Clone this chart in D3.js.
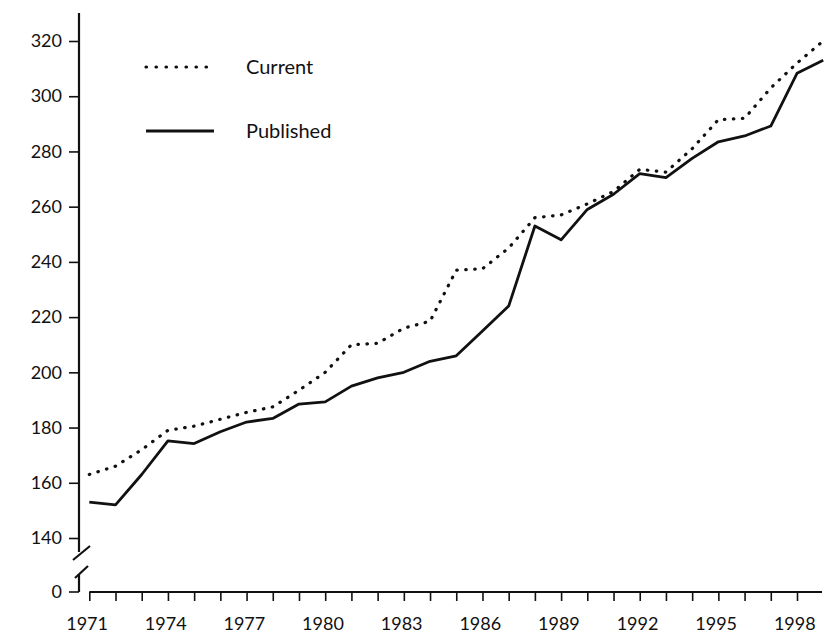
<!DOCTYPE html>
<html>
<head>
<meta charset="utf-8">
<script src="https://cdn.jsdelivr.net/npm/d3@7"></script>
<style>
  body { margin: 0; background: #fff; }
  svg text { font-family: Lato, "Open Sans", sans-serif; fill: #111; }
</style>
</head>
<body>
<div id="chart"></div>
<script>
// data
var years = d3.range(1971, 2000);
var current = [163, 166, 172, 179, 180.5, 183, 185.5, 187.5, 193.5, 200,
    210, 210.5, 216, 218.5, 237, 237.5, 245, 256, 257, 261,
    265.5, 273.5, 272.5, 281, 291.5, 292, 303, 312, 320];
var published = [153, 152, 163, 175.2, 174.2, 178.5, 182, 183.3, 188.5, 189.3,
    195, 198, 200, 204, 206, 215, 224, 253, 248, 259,
    264.5, 272, 270.5, 277.5, 283.5, 285.6, 289.2, 308.3, 313];
var yTicks = [140, 160, 180, 200, 220, 240, 260, 280, 300, 320];
var seriesNames = ["Current", "Published"];

var width = 827, height = 634;
var axisX = 79, baseY = 592;

var xScale = d3.scaleLinear()
    .domain([1971, 1998])
    .range([89.3, 797]);

var yScale = d3.scaleLinear()
    .domain([140, 320])
    .range([538, 41]);

var svg = d3.select("#chart")
    .append("svg")
    .attr("width", width)
    .attr("height", height);

//Y-Axis (broken)
var yAxis = svg.append("g")
    .attr("transform", "translate(" + axisX + ",0)")
    .call(d3.axisLeft(yScale).tickValues(yTicks).tickSize(10).tickPadding(7));
yAxis.select(".domain").remove();
yAxis.selectAll(".tick line").attr("stroke", "#111").attr("stroke-width", 1.6);
yAxis.selectAll("text").attr("font-size", 18).attr("fill", "#111");

svg.append("line")
    .attr("x1", axisX).attr("x2", axisX)
    .attr("y1", 13).attr("y2", 552)
    .attr("stroke", "#111").attr("stroke-width", 2.2);
svg.append("line")
    .attr("x1", 73).attr("y1", 560).attr("x2", 90).attr("y2", 546)
    .attr("stroke", "#111").attr("stroke-width", 2.2);
svg.append("line")
    .attr("x1", 75).attr("y1", 578).attr("x2", 88).attr("y2", 566)
    .attr("stroke", "#111").attr("stroke-width", 2.2);
svg.append("line")
    .attr("x1", axisX).attr("x2", axisX)
    .attr("y1", 574).attr("y2", baseY)
    .attr("stroke", "#111").attr("stroke-width", 2.2);

// zero tick
svg.append("line")
    .attr("x1", axisX - 10).attr("x2", axisX)
    .attr("y1", baseY).attr("y2", baseY)
    .attr("stroke", "#111").attr("stroke-width", 1.6);
svg.append("text")
    .attr("x", axisX - 17)
    .attr("y", baseY)
    .attr("dy", "0.32em")
    .attr("text-anchor", "end")
    .attr("font-size", 18)
    .text("0");

//X-Axis
var xAxis = svg.append("g")
    .attr("transform", "translate(0," + baseY + ")")
    .call(d3.axisBottom(xScale)
        .tickValues(d3.range(1971, 1999))
        .tickSize(9)
        .tickPadding(16)
        .tickFormat(function(d) {
            return (d - 1971) % 3 === 0 ? d : "";
        }));
xAxis.select(".domain").remove();
xAxis.selectAll(".tick line").attr("stroke", "#111").attr("stroke-width", 1.6);
xAxis.selectAll("text").attr("font-size", 18).attr("fill", "#111")
    .attr("dx", "-0.15em");

svg.append("line")
    .attr("x1", xScale(1971)).attr("x2", 822)
    .attr("y1", baseY).attr("y2", baseY)
    .attr("stroke", "#111").attr("stroke-width", 2.2);

// Lines
var line = d3.line()
    .x(function(d) { return xScale(d.year); })
    .y(function(d) { return yScale(d.value); });

var currentData = years.map(function(y, i) { return { year: y, value: current[i] }; });
var publishedData = years.map(function(y, i) { return { year: y, value: published[i] }; });

svg.append("path")
    .datum(currentData)
    .attr("d", line)
    .attr("fill", "none")
    .attr("stroke", "#111")
    .attr("stroke-width", 3.2)
    .attr("stroke-linecap", "round")
    .attr("stroke-dasharray", "0.5,8.5");

svg.append("path")
    .datum(publishedData)
    .attr("d", line)
    .attr("fill", "none")
    .attr("stroke", "#111")
    .attr("stroke-width", 2.8)
    .attr("stroke-linejoin", "round");

// Legend
var legend = svg.append("g")
    .selectAll("g")
    .data(seriesNames)
    .enter().append("g")
    .attr("transform", function(d, i) {
        return "translate(0," + (67 + i * 64) + ")";
    });

legend.append("line")
    .attr("x1", 146)
    .attr("x2", function(d, i) { return i === 0 ? 208 : 214; })
    .attr("stroke", "#111")
    .attr("stroke-width", function(d, i) { return i === 0 ? 3.2 : 2.8; })
    .attr("stroke-linecap", function(d, i) { return i === 0 ? "round" : "butt"; })
    .attr("stroke-dasharray", function(d, i) { return i === 0 ? "0.5,9.5" : null; });

legend.append("text")
    .attr("x", 246)
    .attr("dy", "0.35em")
    .attr("font-size", 20)
    .text(function(d) { return d; });
</script>
</body>
</html>
